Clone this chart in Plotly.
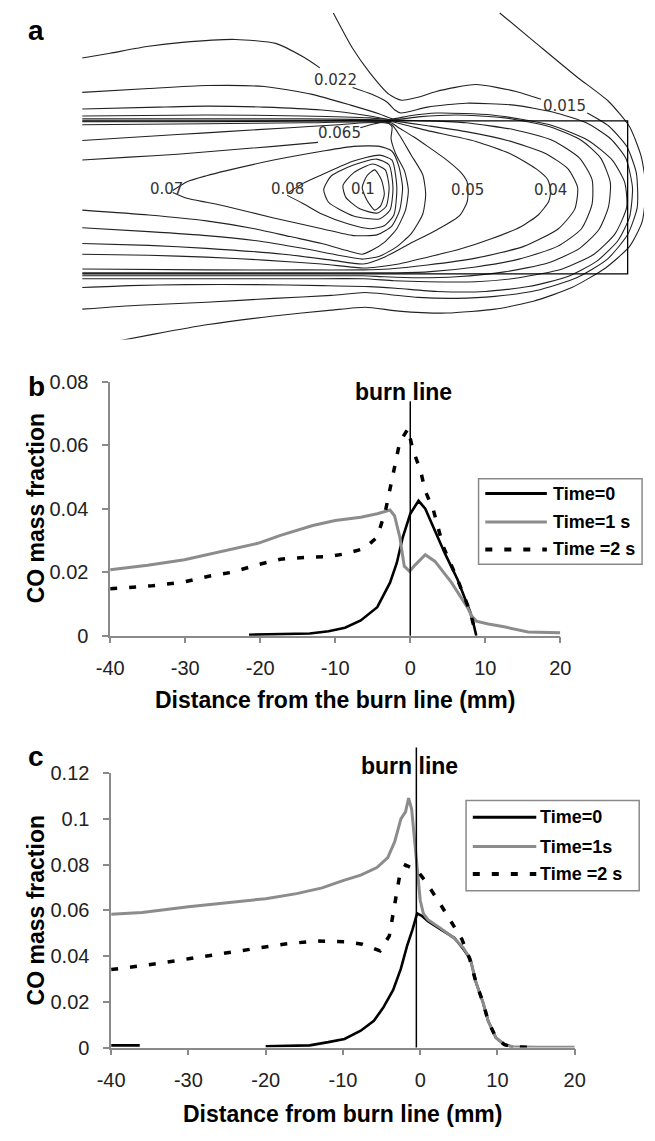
import plotly.graph_objects as go

W, H = 655, 1141

# ---------------- panel b : CO mass fraction, burn line 1 ----------------
b_x_ticks = [-40, -30, -20, -10, 0, 10, 20]
b_x_ticktext = ["-40", "-30", "-20", "-10", "0", "10", "20"]
b_y_ticks = [0, 0.02, 0.04, 0.06, 0.08]
b_y_ticktext = ["0", "0.02", "0.04", "0.06", "0.08"]
b_names = ["Time=0", "Time=1 s", "Time =2 s"]

b_t0_x = [-21.5, -17, -13.4, -10.9, -8.7, -6.6, -4.4, -2.7, -1.8, -1.0, 0, 1.1, 2.0, 3.3, 4.6, 6.3, 8.0, 8.5, 8.8]
b_t0_y = [0.0003, 0.0004, 0.0007, 0.0014, 0.0025, 0.0048, 0.009, 0.0167, 0.0229, 0.031, 0.0384, 0.0425, 0.040,
          0.033, 0.026, 0.0177, 0.0074, 0.003, 0]

b_t1_x = [-40, -35, -30.1, -25, -20.3, -17.3, -13, -10, -6.6, -4.4, -2.7, -2.1, -1.4, -0.8, -0.1, 0.7, 2.0, 3.3,
          5.5, 7.6, 8.2, 8.8, 10.4, 12.5, 15.7, 20]
b_t1_y = [0.0208, 0.0222, 0.0239, 0.0265, 0.0291, 0.0316, 0.0347, 0.0363, 0.0373, 0.0384, 0.0396, 0.0378, 0.0311,
          0.0219, 0.0203, 0.0224, 0.0255, 0.0234, 0.0167, 0.009, 0.0062, 0.0046, 0.0037, 0.0028, 0.0012, 0.0009]

b_t2_x = [-40, -34.5, -30.2, -26.7, -23.7, -20.3, -17.3, -13.9, -10.9, -8.7, -6.1, -4.4, -3.3, -2.3, -1.4, -0.3,
          0.3, 1.4, 2.0, 3.1, 4.4, 6.3, 8.0, 8.8]
b_t2_y = [0.0148, 0.0157, 0.0169, 0.0188, 0.020, 0.0224, 0.0241, 0.0247, 0.0249, 0.0258, 0.0275, 0.0311, 0.0394,
          0.0507, 0.061, 0.0652, 0.059, 0.0517, 0.0456, 0.0394, 0.028, 0.0177, 0.0074, 0]
burn_line_b = 0.0

# ---------------- panel c : CO mass fraction, burn line 2 ----------------
c_x_ticks = [-40, -30, -20, -10, 0, 10, 20]
c_x_ticktext = ["-40", "-30", "-20", "-10", "0", "10", "20"]
c_y_ticks = [0, 0.02, 0.04, 0.06, 0.08, 0.1, 0.12]
c_y_ticktext = ["0", "0.02", "0.04", "0.06", "0.08", "0.1", "0.12"]
c_names = ["Time=0", "Time=1s", "Time =2 s"]

c_t0_x = [-40, -36.3, None, -20, -14.3, -11.9, -9.8, -7.7, -6.0, -4.8, -3.5, -2.5, -1.7, -1.0, -0.4, 0.2, 1.0,
          2.7, 4.4, 5.6, 6.5, 7.2, 8.1, 8.8, 9.8, 10.9, 12]
c_t0_y = [0.001, 0.001, None, 0.0006, 0.001, 0.0024, 0.0038, 0.0074, 0.0117, 0.0174, 0.0252, 0.0345, 0.0445,
          0.0516, 0.0587, 0.0576, 0.0552, 0.0516, 0.048, 0.043, 0.0386, 0.0287, 0.020, 0.0116, 0.0043, 0.0013, 0.0003]

c_t1_x = [-40, -36, -30, -25.2, -20, -16, -12.7, -10, -7.7, -5.6, -4.2, -3.3, -2.5, -1.9, -1.5, -1.1, -0.7, -0.3,
          0, 0.4, 1.0, 2.7, 4.4, 5.6, 6.5, 7.2, 8.1, 8.8, 9.8, 10.9, 12, 15, 20]
c_t1_y = [0.0583, 0.059, 0.0616, 0.0634, 0.0651, 0.0673, 0.0698, 0.073, 0.0754, 0.0787, 0.083, 0.090, 0.100, 0.103,
          0.109, 0.104, 0.0887, 0.0744, 0.0644, 0.0587, 0.0559, 0.052, 0.0478, 0.0435, 0.0386, 0.0287, 0.020,
          0.0116, 0.0043, 0.0013, 0.0004, 0.0002, 0.0002]

c_t2_x = [-40, -35.1, -30, -25.2, -20.2, -17.7, -13.5, -9.8, -7.5, -5.2, -4.0, -3.3, -2.7, -1.9, -1.0, -0.2, 0.6,
          2.3, 3.9, 5.4, 6.4, 7.2, 8.1, 8.8, 9.8, 10.9, 12, 14]
c_t2_y = [0.0341, 0.0362, 0.0388, 0.0413, 0.0438, 0.0452, 0.0466, 0.0463, 0.0452, 0.0423, 0.0488, 0.063, 0.0744,
          0.0798, 0.0784, 0.0766, 0.073, 0.0644, 0.0559, 0.0473, 0.0388, 0.0287, 0.020, 0.0116, 0.0043, 0.0013,
          0.0003, 0.0002]
burn_line_c = -0.5

# ---------------- panel a : digitised CO iso-lines (grid units) ----------------
a015_x = [332, 352, 370, 390, 403, 420, 439, 480, 522, 548, None, 596, 618, 637, 647, 648, 638, 617, 585, 543, 500,
          460, 420, 390, 365, 330, 270, 200, 130, 71]
a015_y = [2, 38, 63, 85, 91, 88, 82, 75, 82, 90, None, 104, 117, 138, 165, 200, 228, 253, 272, 285, 291, 293, 292,
          289, 287, 290, 293, 297, 300, 304]
aout_x = [505, 543, 585, 618, 640, 652, 657, 653, 640, 615, 580, 540, 500, 450, 400, 365, 330, 270, 200, 143, 100]
aout_y = [2, 33, 67, 92, 118, 148, 180, 215, 240, 262, 282, 296, 304, 308, 306, 302, 305, 311, 320, 330, 338]
a022_x = [71, 100, 140, 175, 230, 272, 301, 318, None, 352, 372, 388, 396, 402, 430, 470, 520, 560, 595, 620, 636,
          643, 640, 628, 606, 575, 535, 490, 440, 400, 370, 320, 250, 180, 120, 71]
a022_y = [48, 43, 36, 32, 29, 33, 47, 58, None, 78, 85, 93, 101, 104, 98, 94, 96, 103, 114, 130, 150, 180, 210, 234,
          255, 271, 281, 286, 286, 283, 281, 280, 279, 279, 280, 282]
a8_x = [71, 140, 200, 260, 310, 350, 380, 394, 410, 440, 497, 557, 597, 622, 635, 637, 625, 603, 570, 525, 480, 430,
        395, 363, 300, 200, 130, 71]
a8_y = [83, 79, 76, 77, 85, 96, 105, 110, 107, 104, 106, 116, 132, 152, 175, 200, 227, 248, 263, 272, 276, 276, 275,
        273, 273, 273, 273, 273]
a7_x = [71, 150, 200, 260, 320, 370, 393, 420, 460, 510, 557, 590, 610, 620, 618, 608, 588, 555, 510, 460, 420, 385,
        363, 300, 200, 71]
a7_y = [100, 98, 97, 98, 101, 107, 111, 108, 106, 109, 118, 132, 150, 175, 200, 223, 242, 257, 266, 271, 272, 271,
        270, 270, 270, 270]
a6_x = [71, 200, 300, 370, 394, 430, 470, 520, 560, 588, 601, 601, 590, 565, 525, 480, 430, 390, 363, 300, 200, 71]
a6_y = [107, 106, 107, 109, 111, 112, 114, 121, 132, 150, 172, 197, 222, 240, 253, 261, 266, 267, 267, 267, 267, 267]
a5_x = [71, 200, 300, 380, 394, 430, 470, 513, 552, 576, 586, 583, 566, 530, 480, 430, 390, 363, 300, 200, 71]
a5_y = [110, 110, 110, 111, 112, 117, 123, 132, 145, 161, 180, 202, 222, 240, 252, 259, 263, 264, 264, 264, 263]
a04_x = [71, 200, 300, 380, 393, 410, 430, 480, 517, 543, 555, 558, 556, 545, 527, 497, 463, 430, 400, 378, 363, 320,
         260, 200, 140, 71]
a04_y = [113, 113, 112, 112, 113, 117, 122, 133, 146, 161, 172, 183, 194, 208, 220, 232, 243, 251, 258, 261, 262,
         258, 254, 251, 249, 248]
a05_x = [71, 200, 300, 380, 392, 400, 415, 430, 450, 465, 471, 472, 471, 463, 440, 410, 385, 363, 330, 280, 200, 140,
         71]
a05_y = [116, 115, 114, 113, 114, 119, 128, 138, 152, 165, 174, 183, 195, 209, 223, 238, 251, 258, 254, 248, 242,
         239, 237]
a2_x = [71, 120, 170, 220, 287, 337, 365, 385, 393, 401, 413, 425, 428, 425, 413, 397, 380, 362, 337, 300, 250, 200,
        140, 71]
a2_y = [132, 129, 126, 123, 119, 116, 114, 114, 116, 127, 147, 167, 187, 207, 227, 241, 250, 253, 249, 242, 234, 229,
        225, 221]
a065_x = [71, 120, 170, 220, 270, 316, None, 360, 375, 387, 393, 392, 397, 406, 410, 407, 398, 385, 372, 362, 345,
          320, 287, 250, 200, 140, 71]
a065_y = [152, 149, 146, 142, 138, 134, None, 119, 115, 113, 118, 130, 146, 163, 183, 203, 222, 236, 244, 248, 244,
          237, 230, 222, 214, 208, 203]
a07_x = [165, 180, 200, 220, 270, 320, 353, 380, 393, 400, 404, 401, 393, 378, 353, 320, 270, 220, 200, 180, 165]
a07_y = [183, 174, 168, 163, 152, 143, 138, 138, 143, 158, 180, 203, 219, 228, 229, 222, 211, 199, 195, 191, 185]
a08_x = [284, 300, 320, 353, 380, 393, 398, 395, 385, 370, 347, 320, 300, 284]
a08_y = [186, 176, 167, 153, 147, 152, 180, 208, 219, 222, 217, 207, 196, 188]
a09_x = [322, 330, 353, 377, 390, 394, 391, 380, 353, 327, 322]
a09_y = [182, 168, 157, 151, 157, 180, 203, 212, 209, 195, 182]
a095_x = [342, 353, 373, 386, 390, 387, 378, 360, 345, 342]
a095_y = [178, 165, 156, 162, 180, 199, 206, 202, 190, 178]
a10_x = [362, 367, 375, 382, 385, 381, 375, 367, 362]
a10_y = [180, 168, 162, 172, 187, 199, 203, 193, 180]
a_box_x = [71, 638, 638, 71]
a_box_y = [112, 112, 268, 268]

a_label_text = ["0.022", "0.015", "0.065", "0.07", "0.08", "0.1", "0.05", "0.04"]
a_label_x = [334, 572, 338, 159, 284, 363, 472, 558]
a_label_y = [70, 97, 124, 181, 182, 181, 183, 183]

# ---------------- figure ----------------
def pxx(v):
    return v / W


def pyy(v):
    return 1 - v / H


FONT = "Liberation Sans, Arial, sans-serif"
BLACK = "#000000"
GRAY = "#8c8c8c"
DASH = "7px,12px"

fig = go.Figure()

# panel a
a_lines = [(a015_x, a015_y), (aout_x, aout_y), (a022_x, a022_y), (a8_x, a8_y), (a7_x, a7_y), (a6_x, a6_y),
           (a5_x, a5_y), (a04_x, a04_y), (a05_x, a05_y), (a2_x, a2_y), (a065_x, a065_y), (a07_x, a07_y),
           (a08_x, a08_y), (a09_x, a09_y), (a095_x, a095_y), (a10_x, a10_y)]
for lx, ly in a_lines:
    fig.add_trace(go.Scatter(x=lx, y=ly, mode="lines", xaxis="x3", yaxis="y3", hoverinfo="skip",
                             line=dict(color="#222222", width=1.1, shape="spline", smoothing=0.6)))
fig.add_trace(go.Scatter(x=a_box_x, y=a_box_y, mode="lines", xaxis="x3", yaxis="y3", hoverinfo="skip",
                         line=dict(color=BLACK, width=1.3)))

# panel b
fig.add_trace(go.Scatter(x=b_t0_x, y=b_t0_y, name=b_names[0], mode="lines", xaxis="x", yaxis="y",
                         line=dict(color=BLACK, width=2.6)))
fig.add_trace(go.Scatter(x=b_t1_x, y=b_t1_y, name=b_names[1], mode="lines", xaxis="x", yaxis="y",
                         line=dict(color=GRAY, width=3)))
fig.add_trace(go.Scatter(x=b_t2_x, y=b_t2_y, name=b_names[2], mode="lines", xaxis="x", yaxis="y",
                         line=dict(color=BLACK, width=3.5, dash=DASH)))
# panel c
fig.add_trace(go.Scatter(x=c_t0_x, y=c_t0_y, name=c_names[0], mode="lines", xaxis="x2", yaxis="y2",
                         line=dict(color=BLACK, width=2.6)))
fig.add_trace(go.Scatter(x=c_t1_x, y=c_t1_y, name=c_names[1], mode="lines", xaxis="x2", yaxis="y2",
                         line=dict(color=GRAY, width=3)))
fig.add_trace(go.Scatter(x=c_t2_x, y=c_t2_y, name=c_names[2], mode="lines", xaxis="x2", yaxis="y2",
                         line=dict(color=BLACK, width=3.5, dash=DASH)))

axis_common = dict(showgrid=False, zeroline=False, showline=True, linecolor="#8a8a8a", linewidth=1.5,
                   ticks="outside", ticklen=6, tickwidth=1.5, tickcolor="#8a8a8a",
                   tickfont=dict(family=FONT, size=20, color="#222222"), fixedrange=True)

fig.update_layout(
    width=W, height=H, margin=dict(l=0, r=0, t=0, b=0),
    paper_bgcolor="white", plot_bgcolor="white", showlegend=False,
    xaxis=dict(domain=[pxx(100), pxx(568)], range=[-40, 20], anchor="y", tickvals=b_x_ticks,
               ticktext=b_x_ticktext, ticklabelstandoff=8, **axis_common),
    yaxis=dict(domain=[pyy(637), pyy(378)], range=[0, 0.08], anchor="x", tickvals=b_y_ticks,
               ticktext=b_y_ticktext, ticklabelstandoff=10, **axis_common),
    xaxis2=dict(domain=[pxx(101), pxx(583)], range=[-40, 20], anchor="y2", tickvals=c_x_ticks,
                ticktext=c_x_ticktext, ticklabelstandoff=8, **axis_common),
    yaxis2=dict(domain=[pyy(1057), pyy(777)], range=[0, 0.12], anchor="x2", tickvals=c_y_ticks,
                ticktext=c_y_ticktext, ticklabelstandoff=10, **axis_common),
    xaxis3=dict(domain=[0, 1], range=[0, 655], anchor="y3", visible=False, fixedrange=True),
    yaxis3=dict(domain=[pyy(335), 1], range=[335, 0], anchor="x3", visible=False, fixedrange=True),
)

shapes = [
    dict(type="line", xref="x", yref="paper", x0=burn_line_b, x1=burn_line_b, y0=pyy(637), y1=pyy(398),
         line=dict(color=BLACK, width=1.5)),
    dict(type="line", xref="x2", yref="paper", x0=burn_line_c, x1=burn_line_c, y0=pyy(1057), y1=pyy(751),
         line=dict(color=BLACK, width=1.5)),
]
annotations = []

# manual legends
legend_specs = [
    (b_names, (483, 653, 477, 564), (490, 554), 558, [492, 521, 549]),
    (c_names, (470, 650, 805, 897), (477, 543), 545, [822, 852, 880]),
]
styles = [dict(color=BLACK, width=3), dict(color=GRAY, width=3), dict(color=BLACK, width=4, dash=DASH)]
for names, (bx0, bx1, by0, by1), (lx0, lx1), tx, rows in legend_specs:
    shapes.append(dict(type="rect", xref="paper", yref="paper", x0=pxx(bx0), x1=pxx(bx1), y0=pyy(by1), y1=pyy(by0),
                       line=dict(color="#8a8a8a", width=1.5), fillcolor="white", layer="above"))
    for name, st, ry in zip(names, styles, rows):
        shapes.append(dict(type="line", xref="paper", yref="paper", x0=pxx(lx0), x1=pxx(lx1), y0=pyy(ry),
                           y1=pyy(ry), line=st, layer="above"))
        annotations.append(dict(xref="paper", yref="paper", x=pxx(tx), y=pyy(ry), text=name, showarrow=False,
                                xanchor="left", yanchor="middle",
                                font=dict(family=FONT, size=18, color=BLACK, weight="bold")))

# panel a labels
for t, lx, ly in zip(a_label_text, a_label_x, a_label_y):
    annotations.append(dict(xref="x3", yref="y3", x=lx, y=ly, text=t, showarrow=False, xanchor="center",
                            yanchor="middle", font=dict(family="DejaVu Sans, sans-serif", size=15, color="#333333")))


def bold(s):
    return dict(family=FONT, size=s, color=BLACK, weight="bold")


def label(x, y, text, size, angle=0):
    return dict(xref="paper", yref="paper", x=pxx(x), y=pyy(y), text=text, showarrow=False,
                xanchor="center", yanchor="middle", textangle=angle, font=bold(size))


annotations += [
    label(23, 20, "a", 28),
    label(23, 383, "b", 28),
    label(23, 760, "c", 28),
    label(405, 389, "burn line", 23),
    label(411, 770, "burn line", 23),
    label(334, 703, "Distance from the burn line (mm)", 23),
    label(342, 1125, "Distance from burn line (mm)", 23),
    label(23, 507, "CO mass fraction", 23, -90),
    label(23, 917, "CO mass fraction", 23, -90),
]

fig.update_layout(shapes=shapes, annotations=annotations)
fig.write_html("out.html", config={"displayModeBar": False},
               post_script="document.body.style.margin='0';")
